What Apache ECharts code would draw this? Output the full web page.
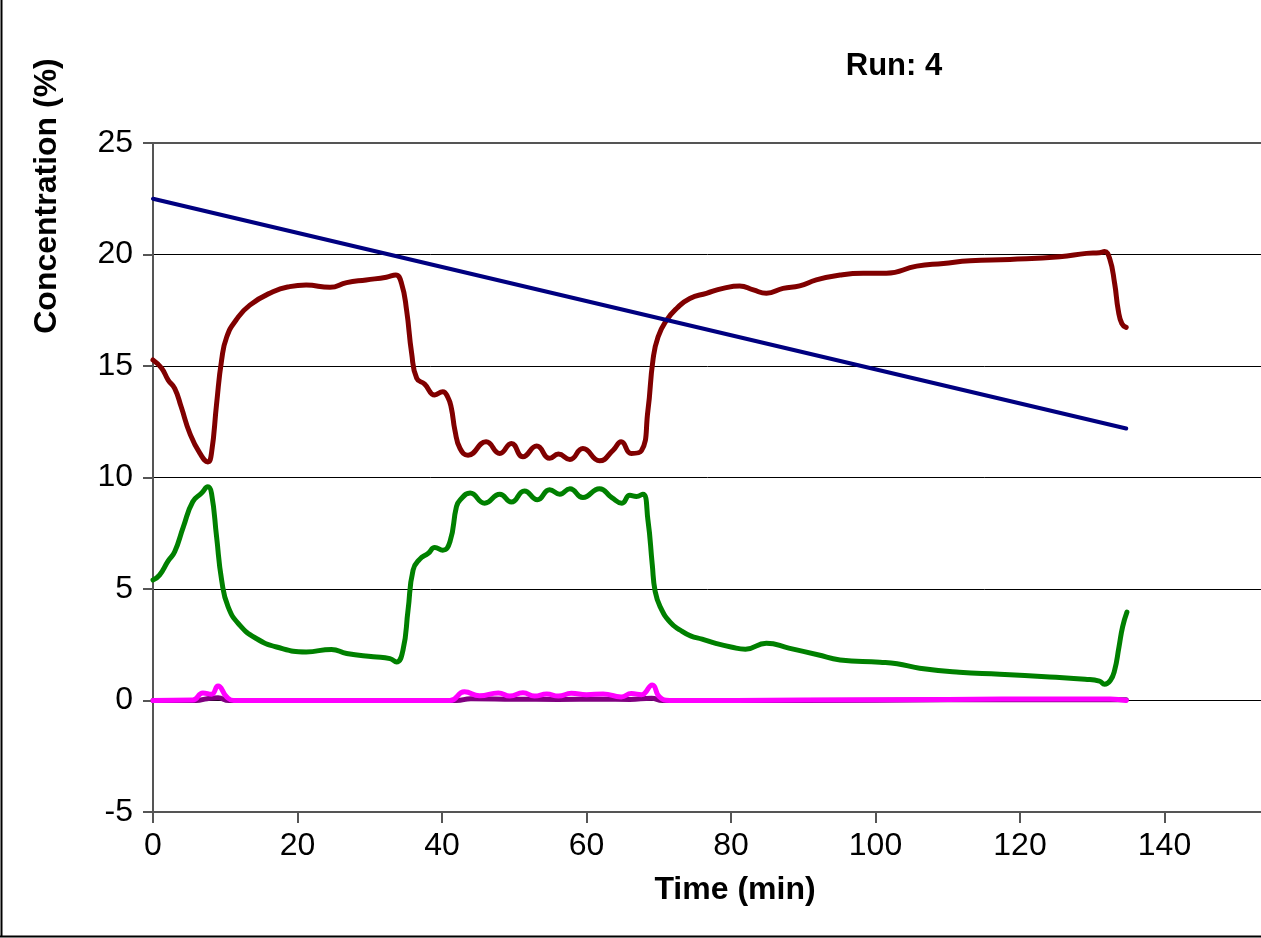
<!DOCTYPE html>
<html>
<head>
<meta charset="utf-8">
<script src="https://cdn.jsdelivr.net/npm/echarts@6/dist/echarts.min.js"></script>
<style>
html,body{margin:0;padding:0;background:#fff;}
#c{width:1261px;height:938px;}
</style>
</head>
<body>
<div id="c"></div>
<script>
var xTicks = [0, 20, 40, 60, 80, 100, 120, 140, 160];
var yTicks = [-5, 0, 5, 10, 15, 20, 25];

var redT = [0, 1.2, 2.1, 3.0, 3.9, 5.1, 6.5, 7.6, 8.1, 8.8, 9.5, 10.2, 11.5, 13.4, 16.6, 18.9, 21.2, 24.5, 26.8, 29.5, 32.3, 33.6, 34.4, 35.1, 35.8, 36.5, 37.6, 39.0, 40.1, 40.8, 41.3, 41.8, 42.5, 43.6, 46.1, 48.0, 49.6, 51.2, 53.1, 54.9, 56.1, 57.7, 59.5, 61.8, 63.7, 64.8, 66.2, 67.6, 68.5, 69.2, 69.9, 71.1, 72.5, 74.3, 76.6, 78.9, 81.2, 83.1, 84.9, 87.2, 89.5, 91.8, 95.1, 98.3, 101.5, 105.7, 109.4, 113.1, 118.6, 125.5, 129.2, 131.0, 131.7, 132.4, 133.1, 133.6, 134.1, 134.7];
var redV = [15.27, 14.9, 14.37, 14.0, 13.17, 11.98, 11.08, 10.7, 11.1, 13.3, 15.27, 16.3, 17.06, 17.73, 18.33, 18.56, 18.63, 18.53, 18.74, 18.86, 18.98, 19.08, 18.7, 17.5, 15.57, 14.45, 14.19, 13.7, 13.85, 13.6, 13.1, 12.1, 11.3, 11.0, 11.6, 11.08, 11.53, 10.93, 11.41, 10.86, 11.05, 10.81, 11.3, 10.75, 11.23, 11.6, 11.08, 11.2, 13.0, 15.27, 16.3, 17.06, 17.59, 18.03, 18.26, 18.48, 18.59, 18.41, 18.26, 18.48, 18.59, 18.86, 19.08, 19.16, 19.16, 19.48, 19.6, 19.72, 19.78, 19.9, 20.05, 20.08, 20.13, 19.83, 18.7, 17.5, 16.9, 16.73];

var greenT = [0, 0.9, 2.1, 3.0, 4.2, 5.5, 6.7, 7.6, 8.1, 8.8, 9.5, 10.4, 12.0, 14.3, 17.1, 21.2, 24.7, 26.8, 30.5, 32.8, 33.7, 34.6, 35.3, 36.0, 36.9, 38.1, 39.0, 40.1, 41.1, 42.0, 42.5, 43.9, 45.9, 48.0, 49.6, 51.4, 53.2, 54.9, 56.3, 57.7, 59.5, 61.8, 63.5, 64.9, 66.0, 66.9, 67.8, 68.5, 69.1, 69.5, 70.2, 71.6, 73.0, 74.4, 76.0, 78.0, 80.0, 82.0, 84.9, 88.0, 92.0, 95.1, 100.6, 103.0, 106.1, 111.6, 117.2, 124.1, 129.0, 131.0, 131.7, 132.5, 133.1, 133.7, 134.2, 134.8];
var greenV = [5.4, 5.62, 6.26, 6.67, 7.79, 8.91, 9.29, 9.58, 9.29, 7.34, 5.4, 4.2, 3.38, 2.78, 2.4, 2.18, 2.29, 2.11, 1.96, 1.88, 1.73, 2.26, 4.05, 5.85, 6.33, 6.6, 6.86, 6.74, 7.12, 8.69, 8.99, 9.3, 8.85, 9.25, 8.9, 9.4, 9.0, 9.45, 9.25, 9.5, 9.1, 9.5, 9.1, 8.85, 9.2, 9.15, 9.25, 8.1, 6.1, 4.9, 4.2, 3.5, 3.15, 2.9, 2.75, 2.55, 2.4, 2.3, 2.57, 2.35, 2.05, 1.82, 1.72, 1.65, 1.45, 1.27, 1.18, 1.05, 0.95, 0.87, 0.73, 0.9, 1.36, 2.4, 3.3, 3.96];

var magentaT = [0, 5.5, 6.9, 8.1, 9.0, 10.2, 11.2, 41.1, 43.1, 45.2, 47.8, 49.4, 51.2, 52.8, 54.5, 56.1, 57.9, 60.0, 62.3, 64.8, 66.2, 67.6, 69.1, 70.1, 71.5, 90, 110, 125, 132.5, 134.7];
var magentaV = [0, 0.02, 0.34, 0.28, 0.65, 0.16, 0, 0, 0.39, 0.21, 0.34, 0.2, 0.35, 0.2, 0.29, 0.2, 0.32, 0.26, 0.29, 0.16, 0.31, 0.26, 0.7, 0.16, 0, 0.02, 0.05, 0.07, 0.07, 0];

var purpleT = [0, 6, 7.5, 9, 10.5, 42, 44, 50, 56, 62, 66, 69, 70.5, 90, 110, 134.7];
var purpleV = [0, 0, 0.08, 0.12, 0, 0, 0.08, 0.06, 0.05, 0.06, 0.05, 0.1, 0, 0, 0.03, 0.03];

var blueT = [0, 134.7];
var blueV = [22.5, 12.2];

function pairs(t, v) { return t.map(function (x, i) { return [x, v[i]]; }); }

var FONT = '"Liberation Sans", Arial, sans-serif';

var chart = echarts.init(document.getElementById('c'), null, {renderer: 'canvas'});

function lineSeries(name, t, v, color, width) {
  return {
    name: name, type: 'line', data: pairs(t, v), showSymbol: false,
    smooth: 0.5,
    lineStyle: {color: color, width: width, cap: 'round', join: 'round'}, itemStyle: {color: color},
    animation: false, silent: true
  };
}

chart.setOption({
  animation: false,
  backgroundColor: '#fff',
  grid: {left: 153, top: 143, width: 1156, height: 669, containLabel: false, outerBoundsMode: 'none'},
  xAxis: [{
    type: 'value', min: xTicks[0], max: xTicks[xTicks.length - 1], interval: 20,
    position: 'bottom',
    axisLine: {show: true, onZero: false, lineStyle: {color: '#555', width: 2}},
    axisTick: {show: true, inside: false, length: 11, lineStyle: {color: '#555', width: 2}},
    axisLabel: {fontFamily: FONT, fontSize: 32, color: '#000', margin: 18},
    splitLine: {show: false}
  }, {
    type: 'value', min: xTicks[0], max: xTicks[xTicks.length - 1], interval: 20,
    position: 'top',
    axisLine: {show: true, onZero: false, lineStyle: {color: '#555', width: 2}},
    axisTick: {show: false}, axisLabel: {show: false}, splitLine: {show: false}
  }],
  yAxis: {
    type: 'value', min: yTicks[0], max: yTicks[yTicks.length - 1], interval: 5,
    axisLine: {show: true, onZero: false, lineStyle: {color: '#555', width: 2}},
    axisTick: {show: true, inside: false, length: 10, lineStyle: {color: '#555', width: 2}},
    axisLabel: {fontFamily: FONT, fontSize: 32, color: '#000', margin: 20},
    splitLine: {show: true, lineStyle: {color: '#000', width: 1}}
  },
  graphic: [
    {type: 'line', shape: {x1: 1.5, y1: 0, x2: 1.5, y2: 937}, style: {stroke: '#000', lineWidth: 2}, silent: true},
    {type: 'line', shape: {x1: 0, y1: 936.5, x2: 1261, y2: 936.5}, style: {stroke: '#000', lineWidth: 2}, silent: true},
    {type: 'text', x: 894, y: 66, silent: true,
     style: {text: 'Run: 4', font: 'bold 31px ' + FONT, fill: '#000', textAlign: 'center', textVerticalAlign: 'middle'}},
    {type: 'text', x: 735, y: 890, silent: true,
     style: {text: 'Time (min)', font: 'bold 32px ' + FONT, fill: '#000', textAlign: 'center', textVerticalAlign: 'middle'}},
    {type: 'text', x: 47, y: 196, rotation: Math.PI / 2, silent: true,
     style: {text: 'Concentration (%)', font: 'bold 32px ' + FONT, fill: '#000', textAlign: 'center', textVerticalAlign: 'middle'}}
  ],
  series: [
    lineSeries('Green', greenT, greenV, '#008000', 5),
    lineSeries('Red', redT, redV, '#800000', 5),
    lineSeries('Purple', purpleT, purpleV, '#800080', 5),
    lineSeries('Magenta', magentaT, magentaV, '#FF00FF', 5),
    lineSeries('Blue', blueT, blueV, '#000080', 4)
  ]
});
</script>
</body>
</html>
